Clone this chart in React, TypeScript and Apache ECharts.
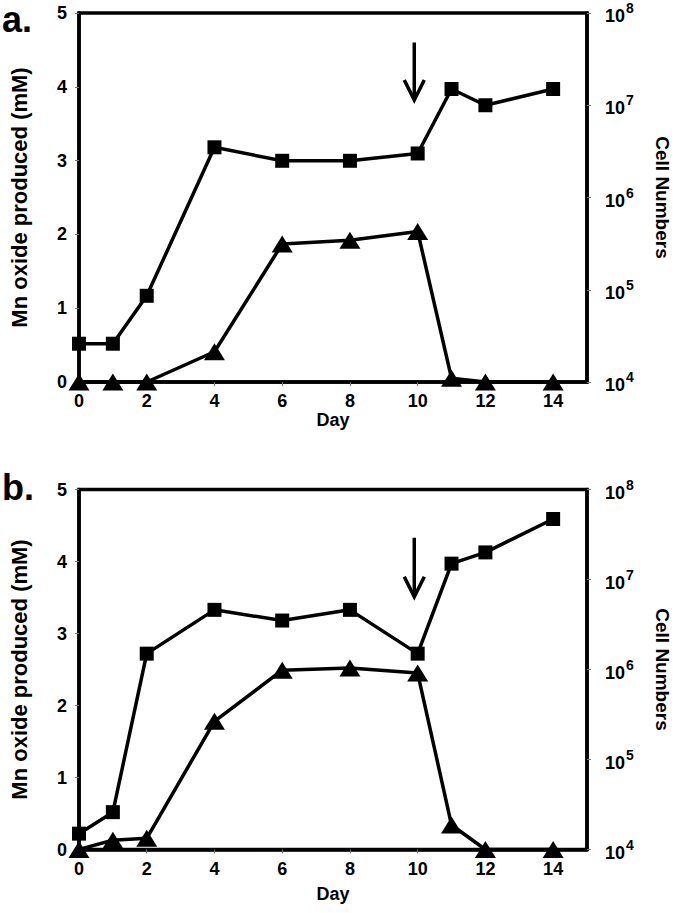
import React, { useEffect, useRef } from "react";
import * as echarts from "echarts";

const days = [0, 1, 2, 4, 6, 8, 10, 11, 12, 14];
const cellsA = [2.6e4, 2.6e4, 8.6e4, 3.5e6, 2.5e6, 2.5e6, 3.0e6, 1.5e7, 1.0e7, 1.5e7];
const mnA = [0, 0, 0, 0.41, 1.87, 1.92, 2.04, 0.05, 0, 0];
const cellsB = [1.5e4, 2.6e4, 1.5e6, 4.6e6, 3.5e6, 4.6e6, 1.5e6, 1.5e7, 2.0e7, 4.7e7];
const mnB = [0, 0.13, 0.155, 1.78, 2.49, 2.52, 2.45, 0.34, 0, 0];
const arrowA = [9.9, 4.6, 3.82];
const arrowB = [9.9, 4.33, 3.51];
const leftTicks = [0, 1, 2, 3, 4, 5];
const dayTicks = [0, 2, 4, 6, 8, 10, 12, 14];

const FONT = "Liberation Sans, Arial, sans-serif";

function pairs(xs: number[], ys: number[]) {
  return xs.map((x, i) => [x, ys[i]]);
}

export default function App() {
  const ref = useRef<HTMLDivElement>(null);
  useEffect(() => {
    if (!ref.current) return;
    const chart = echarts.init(ref.current, null, { renderer: "svg" });
    const grids = [
      { left: 74, right: 93, top: 13, height: 369 },
      { left: 70, right: 88, top: 489.5, height: 360 },
    ];
    const dayGaps = [28, 35];
    const xAxes = grids.map((_, i) => ({
      type: "value",
      gridIndex: i,
      min: 0,
      max: 15,
      interval: 2,
      name: "Day",
      nameLocation: "middle",
      nameGap: dayGaps[i],
      nameTextStyle: { fontFamily: FONT, fontWeight: "bold", fontSize: 18, color: "#000" },
      axisLine: { show: true, onZero: false, lineStyle: { color: "#000", width: 3.5 } },
      axisTick: { show: true, length: 4, lineStyle: { color: "#777", width: 1 } },
      axisLabel: {
        showMaxLabel: false,
        margin: 10,
        fontFamily: FONT,
        fontWeight: "bold",
        fontSize: 18,
        color: "#000",
        formatter: (v: number) => (dayTicks.includes(v) ? String(v) : ""),
      },
      splitLine: { show: false },
    }));
    const yAxes: any[] = [];
    grids.forEach((_, i) => {
      yAxes.push({
        type: "value",
        gridIndex: i,
        min: 0,
        max: 5,
        interval: 1,
        name: "Mn oxide produced (mM)",
        nameLocation: "middle",
        nameRotate: 90,
        nameGap: 49,
        nameTextStyle: { fontFamily: FONT, fontWeight: "bold", fontSize: 22, color: "#000" },
        axisLine: { show: true, lineStyle: { color: "#000", width: 3.5 } },
        axisTick: { show: true, length: 4, lineStyle: { color: "#777", width: 1 } },
        axisLabel: {
          margin: 12,
          fontFamily: FONT,
          fontWeight: "bold",
          fontSize: 18,
          color: "#000",
          formatter: (v: number) => (leftTicks.includes(v) ? String(v) : ""),
        },
        splitLine: { show: false },
      });
      yAxes.push({
        type: "log",
        logBase: 10,
        gridIndex: i,
        position: "right",
        min: 1e4,
        max: 1e8,
        name: "Cell Numbers",
        nameLocation: "middle",
        nameRotate: -90,
        nameGap: 66,
        nameTextStyle: { fontFamily: FONT, fontWeight: "bold", fontSize: 19, color: "#000" },
        axisLine: { show: true, lineStyle: { color: "#000", width: 3.5 } },
        axisTick: { show: true, length: 4, lineStyle: { color: "#777", width: 1 } },
        axisLabel: {
          margin: 18,
          fontFamily: FONT,
          fontWeight: "bold",
          color: "#000",
          formatter: (v: number) => "{b|10}{sup|" + Math.round(Math.log10(v)) + "}",
          rich: {
            b: { fontFamily: FONT, fontWeight: "bold", fontSize: 18, color: "#000", verticalAlign: "bottom" },
            sup: { fontFamily: FONT, fontWeight: "bold", fontSize: 14, color: "#000", verticalAlign: "top", padding: [0, 0, 10, 1] },
          },
        },
        splitLine: { show: false },
      });
    });

    const lineBase = {
      type: "line",
      lineStyle: { color: "#000", width: 3.5 },
      itemStyle: { color: "#000" },
      symbolKeepAspect: true,
      clip: false,
      z: 3,
    };

    const arrowSeries = (i: number, a: number[]) => ({
      type: "custom",
      xAxisIndex: i,
      yAxisIndex: i * 2,
      data: [a],
      renderItem: (params: any, api: any) => {
        const p1 = api.coord([api.value(0), api.value(1)]);
        const p2 = api.coord([api.value(0), api.value(2)]);
        return {
          type: "group",
          children: [
            { type: "line", shape: { x1: p1[0], y1: p1[1], x2: p2[0], y2: p2[1] - 1 }, style: { stroke: "#000", lineWidth: 3.5 } },
            {
              type: "polyline",
              shape: { points: [[p2[0] - 10, p2[1] - 20], [p2[0], p2[1]], [p2[0] + 10, p2[1] - 20]] },
              style: { stroke: "#000", lineWidth: 3.5, fill: "none" },
            },
          ],
        };
      },
    });

    const option: any = {
      animation: false,
      backgroundColor: "#fff",
      grid: grids.map((g) => ({ ...g, show: true, borderColor: "#000", borderWidth: 3.5, backgroundColor: "transparent" })),
      xAxis: xAxes,
      yAxis: yAxes,
      graphic: [
        { type: "text", left: 2, top: 1, style: { text: "a.", font: "bold 36px " + FONT, fill: "#000" } },
        { type: "text", left: 2, top: 469, style: { text: "b.", font: "bold 36px " + FONT, fill: "#000" } },
      ],
      series: [
        { ...lineBase, xAxisIndex: 0, yAxisIndex: 1, symbol: "rect", symbolSize: 14, data: pairs(days, cellsA) },
        { ...lineBase, xAxisIndex: 0, yAxisIndex: 0, symbol: "triangle", symbolSize: [21, 17], data: pairs(days, mnA) },
        { ...lineBase, xAxisIndex: 1, yAxisIndex: 3, symbol: "rect", symbolSize: 14, data: pairs(days, cellsB) },
        { ...lineBase, xAxisIndex: 1, yAxisIndex: 2, symbol: "triangle", symbolSize: [21, 17], data: pairs(days, mnB) },
        arrowSeries(0, arrowA),
        arrowSeries(1, arrowB),
      ],
    };
    chart.setOption(option);
    return () => chart.dispose();
  }, []);
  return <div ref={ref} style={{ position: "absolute", left: 0, top: 0, width: 680, height: 913 }} />;
}
